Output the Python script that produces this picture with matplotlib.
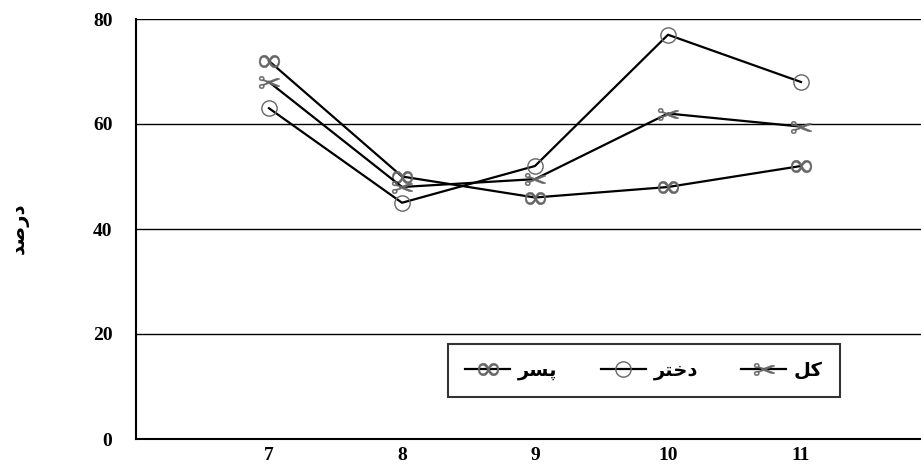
import matplotlib
matplotlib.use("Agg")
import matplotlib.pyplot as plt

# grades on the x axis
grades = [7, 8, 9, 10, 11]
grade_labels = ["7", "8", "9", "10", "11"]

# percent values per group
boys = [72, 50, 46, 48, 52]
girls = [63, 45, 52, 77, 68]
total = [68, 48, 49.5, 62, 59.5]

y_ticks = [0, 20, 40, 60, 80]

# Persian words written in presentation forms (visual order) so they join
lbl_boys = "\uFEAE\uFEB4\uFB58"           # پسر
lbl_girls = "\uFEAE\uFE98\uFEA7\uFEA9"    # دختر
lbl_total = "\uFEDE\uFB90"                # کل
lbl_y = "\uFEAA\uFEBB\uFEAD\uFEA9"        # درصد

fa_font = ["Liberation Sans", "DejaVu Sans"]
num_font = "Liberation Serif"

fig = plt.figure(figsize=(9.21, 4.67), dpi=100)
ax = fig.add_axes([136 / 921, 28 / 467, 798 / 921, 420 / 467])

ax.set_xlim(6, 12)
ax.set_ylim(0, 80)

# gridlines
for v in y_ticks[1:]:
    ax.axhline(v, color="black", lw=1.0, zorder=1)

mk_gray = "#666666"
l_boys, = ax.plot(grades, boys, color="black", lw=1.6, zorder=3,
                  marker="$\\infty$", ms=15, mfc=mk_gray, mec=mk_gray, mew=0.3)
l_girls, = ax.plot(grades, girls, color="black", lw=1.6, zorder=3,
                   marker="o", ms=11, mfc="none", mec=mk_gray, mew=1.0)
l_total, = ax.plot(grades, total, color="black", lw=1.6, zorder=3,
                   marker="$\u2702$", ms=15, mfc=mk_gray, mec=mk_gray, mew=0.3)

for s in ["right", "top"]:
    ax.spines[s].set_visible(False)
ax.spines["left"].set_linewidth(1.5)
ax.spines["bottom"].set_linewidth(1.5)

ax.set_yticks(y_ticks)
ax.set_yticklabels([str(v) for v in y_ticks], fontfamily=num_font,
                   fontweight="bold", fontsize=14)
ax.set_xticks(grades)
ax.set_xticklabels(grade_labels, fontfamily=num_font, fontweight="bold",
                   fontsize=14)
ax.tick_params(axis="both", length=0)
ax.tick_params(axis="y", pad=17)
ax.tick_params(axis="x", pad=6)

fig.text(20 / 921, 1 - 228 / 467, lbl_y, rotation=90, ha="center",
         va="center", fontsize=14, fontweight="bold", family=fa_font)

handles = [l_boys, l_girls, l_total]
leg = ax.legend(handles, [lbl_boys, lbl_girls, lbl_total], ncol=3,
                loc="lower left",
                bbox_to_anchor=((438 - 136) / 798, (439 - 407) / 420,
                                (850 - 438) / 798, 57 / 420),
                mode="expand", frameon=True, fancybox=False,
                handlelength=2.3, handletextpad=0.4, borderpad=0.9,
                columnspacing=2.5,
                prop={"family": fa_font, "weight": "bold", "size": 14})
leg.get_frame().set_edgecolor("black")
leg.get_frame().set_linewidth(1.5)

fig.savefig("out.png", dpi=100)
